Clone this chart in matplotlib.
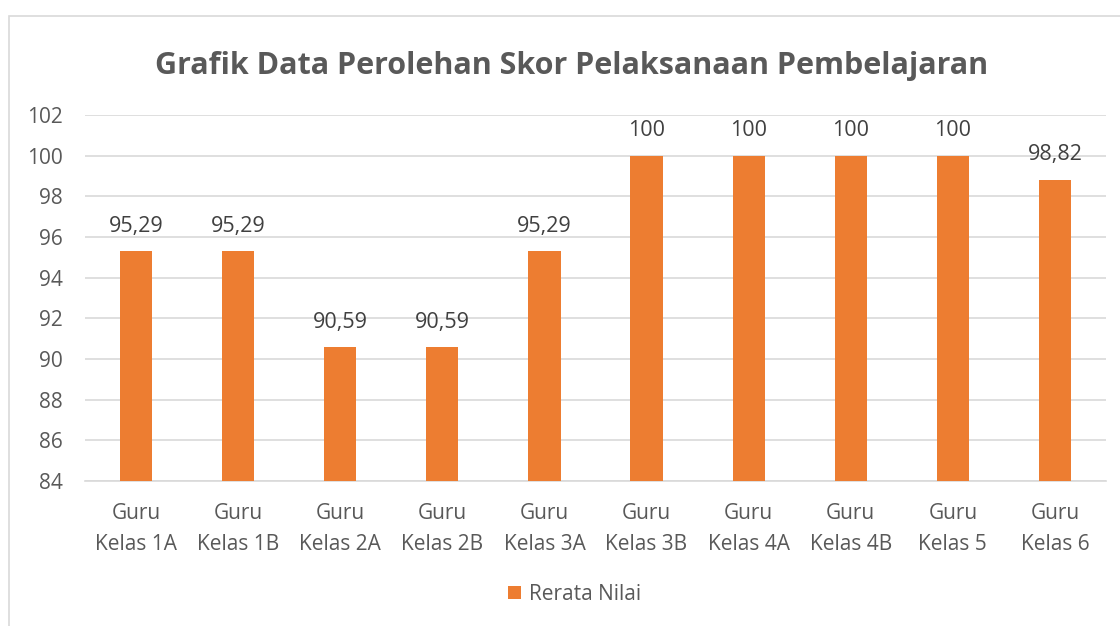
import matplotlib.pyplot as plt
import matplotlib.patches as mpatches
import numpy as np

plt.rcParams['font.family'] = ['Open Sans', 'DejaVu Sans']

kategori = ["Guru\nKelas 1A", "Guru\nKelas 1B", "Guru\nKelas 2A", "Guru\nKelas 2B",
            "Guru\nKelas 3A", "Guru\nKelas 3B", "Guru\nKelas 4A", "Guru\nKelas 4B",
            "Guru\nKelas 5", "Guru\nKelas 6"]
nilai = [95.29, 95.29, 90.59, 90.59, 95.29, 100, 100, 100, 100, 98.82]
label_nilai = ["95,29", "95,29", "90,59", "90,59", "95,29", "100", "100", "100", "100", "98,82"]
yticks = [84, 86, 88, 90, 92, 94, 96, 98, 100, 102]

oranye = "#ED7D31"
abu = "#595959"

fig = plt.figure(figsize=(11.2, 6.26), dpi=100)
ax = fig.add_axes([85/1120, 0.2316, 1021/1120, 0.5847])

# bingkai chart
fig.patches.append(mpatches.Rectangle((9/1120, -0.05), 1.2, 1 - 16/626 + 0.05,
                                      transform=fig.transFigure, fill=False,
                                      edgecolor="#D9D9D9", linewidth=1.2))

x = np.arange(len(kategori))
ax.bar(x, nilai, width=0.315, color=oranye, zorder=3, label="Rerata Nilai")
for xi, v, s in zip(x, nilai, label_nilai):
    ax.text(xi, v + 0.7, s, ha="center", va="bottom", fontsize=15.5, color="#404040")

ax.set_ylim(84, 102)
ax.set_xlim(-0.5, len(kategori) - 0.5)
ax.set_yticks(yticks)
ax.set_yticklabels([str(t) for t in yticks])
ax.set_xticks(x)
ax.set_xticklabels(kategori, fontsize=15, color=abu, linespacing=1.6)
ax.tick_params(axis="y", labelsize=15, labelcolor=abu, length=0, pad=16)
ax.tick_params(axis="x", length=0, pad=16)
ax.grid(axis="y", color="#D9D9D9", linewidth=1.2, zorder=0)
for s in ["top", "right", "left"]:
    ax.spines[s].set_visible(False)
ax.spines["bottom"].set_color("#D9D9D9")
ax.spines["bottom"].set_linewidth(1.2)

fig.text(0.51, 0.895, "Grafik Data Perolehan Skor Pelaksanaan Pembelajaran",
         ha="center", va="center", fontsize=22, fontweight="bold", color=abu)

fig.legend(loc="center", bbox_to_anchor=(0.513, 0.05), frameon=False, fontsize=15,
           handlelength=0.6, handleheight=0.6, handletextpad=0.4, labelcolor=abu)

fig.savefig("out.png", dpi=100)
